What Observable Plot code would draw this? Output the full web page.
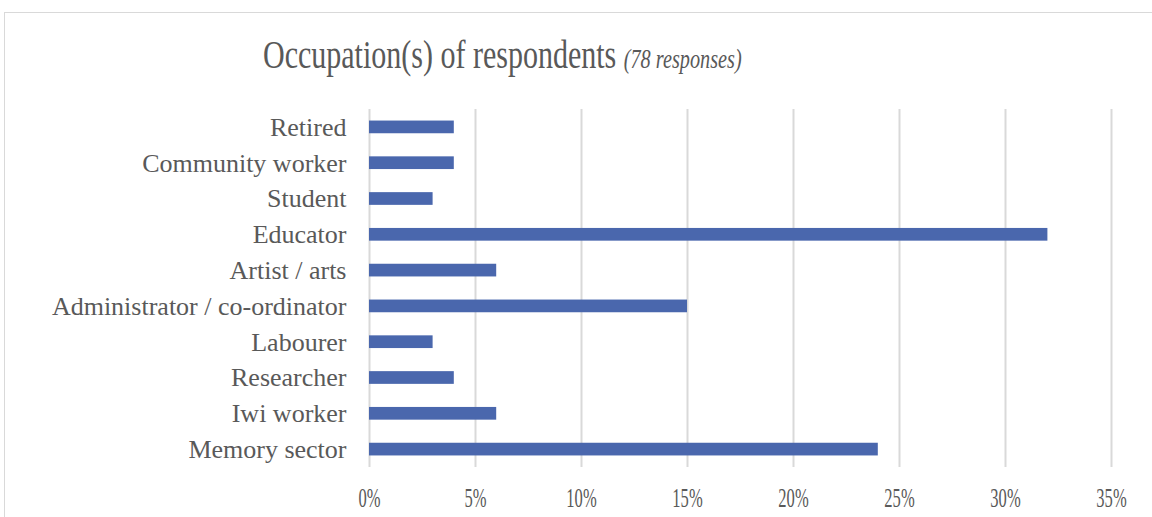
<!DOCTYPE html>
<html>
<head>
<meta charset="utf-8">
<script src="https://cdn.jsdelivr.net/npm/d3@7"></script>
<script src="https://cdn.jsdelivr.net/npm/@observablehq/plot@0.6"></script>
<style>
  html, body { margin: 0; padding: 0; background: #fff; }
  #wrap { position: relative; width: 1152px; height: 517px; overflow: hidden; background: #fff; }
  #frame { position: absolute; left: 4px; top: 12px; width: 1200px; height: 600px; border: 1px solid #d9d9d9; box-sizing: border-box; }
  #title { position: absolute; left: 263px; top: 35px; font-family: "Liberation Serif", serif; font-size: 40px; line-height: 40px; color: #595959; white-space: nowrap; transform: scaleX(0.75); transform-origin: 0 0; }
  #title i { font-size: 27px; }
  #chart { position: absolute; left: 0; top: 90px; }
</style>
</head>
<body>
<div id="wrap">
  <div id="frame"></div>
  <div id="title">Occupation(s) of respondents <i>(78 responses)</i></div>
  <div id="chart"></div>
</div>
<script>
const categories = ["Retired", "Community worker", "Student", "Educator", "Artist / arts", "Administrator / co-ordinator", "Labourer", "Researcher", "Iwi worker", "Memory sector"];
const values = [4, 4, 3, 32, 6, 15, 3, 4, 6, 24];
const xTicks = [0, 5, 10, 15, 20, 25, 30, 35];

const data = categories.map((c, i) => ({category: c, value: values[i]}));

const chart = Plot.plot({
  width: 1152,
  height: 427,
  marginLeft: 369,
  marginRight: 41,
  marginTop: 19,
  marginBottom: 50,
  style: {fontFamily: "'Liberation Serif', serif", color: "#595959", background: "transparent"},
  x: {domain: [0, 35]},
  y: {domain: categories, paddingInner: 0.645, paddingOuter: 0.3225, round: false},
  marks: [
    Plot.gridX(xTicks, {stroke: "#d9d9d9", strokeOpacity: 1, strokeWidth: 2}),
    Plot.barX(data, {x: "value", y: "category", fill: "#4a67ad"}),
    Plot.axisX({ticks: xTicks, tickFormat: d => d + "%", tickSize: 0, tickPadding: 20, fontSize: 28, label: null}),
    Plot.axisY({tickSize: 0, tickPadding: 23, fontSize: 26, label: null})
  ]
});
document.getElementById("chart").appendChild(chart);

// x tick labels in the reference are horizontally condensed
chart.querySelectorAll('[aria-label="x-axis tick label"] text').forEach(t => {
  const len = t.getComputedTextLength();
  t.setAttribute("textLength", len * 0.59);
  t.setAttribute("lengthAdjust", "spacingAndGlyphs");
});
</script>
</body>
</html>
